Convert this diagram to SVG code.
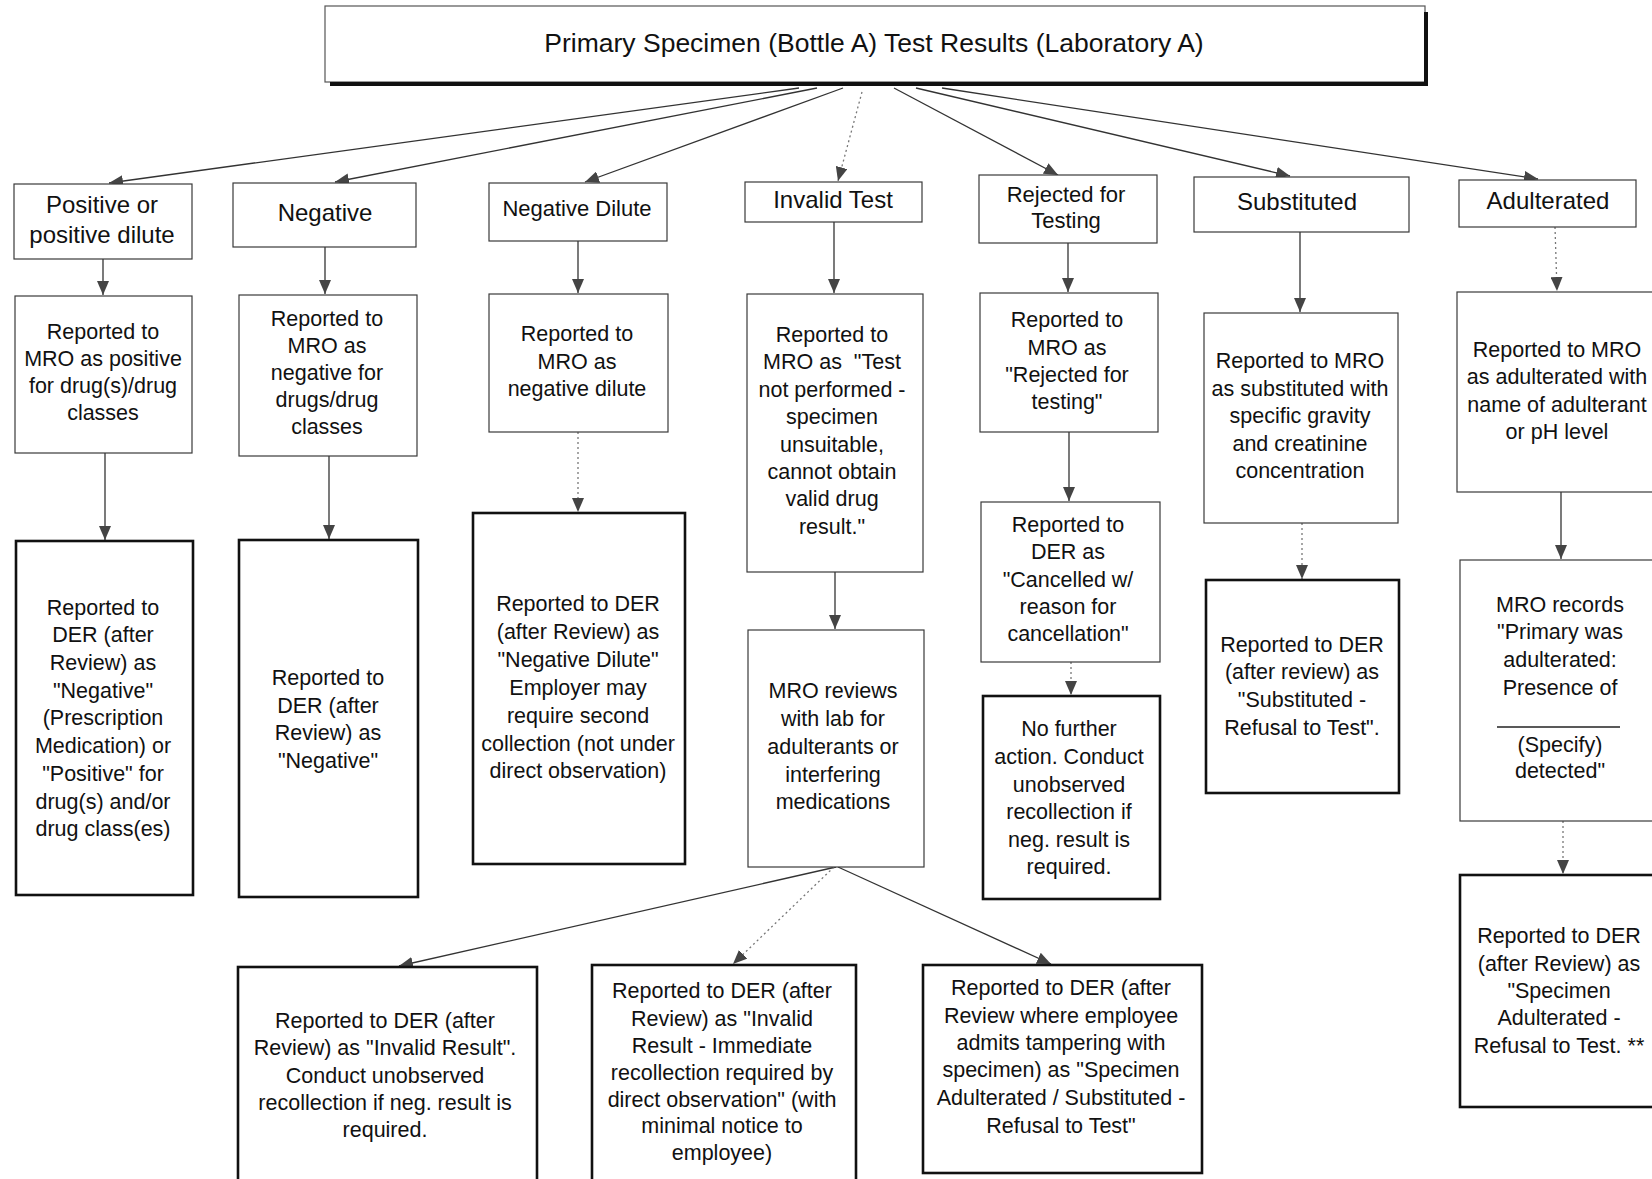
<svg xmlns="http://www.w3.org/2000/svg" width="1652" height="1179" viewBox="0 0 1652 1179">
<style>
.bg{fill:#ffffff}
.thin{fill:#ffffff;stroke:#3a3a3a;stroke-width:1.2}
.thick{fill:#ffffff;stroke:#111111;stroke-width:2.6}
.t{font-family:"Liberation Sans",Arial,sans-serif;font-size:21.5px;fill:#111111;text-anchor:middle}
.h{font-size:24px}
.h2{font-size:22px}
.ttl{font-size:26.5px}
.c{stroke:#333333;stroke-width:1.3;fill:none;marker-end:url(#ah)}
.dot{stroke-dasharray:2 3;stroke:#777777}
</style>
<defs>
<marker id="ah" viewBox="0 0 14 12" refX="14" refY="6" markerWidth="14" markerHeight="12" markerUnits="userSpaceOnUse" orient="auto">
<path d="M0,0 L14,6 L0,12 z" fill="#444444"/>
</marker>
</defs>
<rect class="bg" x="0" y="0" width="1652" height="1179"/>

<g id="connectors">
<line class="c" x1="799" y1="88" x2="109" y2="183"/>
<line class="c" x1="817" y1="88" x2="335" y2="182"/>
<line class="c" x1="843" y1="88" x2="585" y2="182"/>
<line class="c dot" x1="862" y1="92" x2="838" y2="181"/>
<line class="c" x1="894" y1="88" x2="1058" y2="175"/>
<line class="c" x1="916" y1="88" x2="1290" y2="176"/>
<line class="c" x1="942" y1="88" x2="1538" y2="179"/>
<line class="c" x1="103" y1="259" x2="103" y2="295"/>
<line class="c" x1="325" y1="247" x2="325" y2="294"/>
<line class="c" x1="578" y1="241" x2="578" y2="293"/>
<line class="c" x1="834" y1="222" x2="834" y2="293"/>
<line class="c" x1="1068" y1="243" x2="1068" y2="292"/>
<line class="c" x1="1300" y1="232" x2="1300" y2="312"/>
<line class="c dot" x1="1555" y1="227" x2="1557" y2="291"/>
<line class="c" x1="105" y1="453" x2="105" y2="540"/>
<line class="c" x1="329" y1="456" x2="329" y2="539"/>
<line class="c dot" x1="578" y1="432" x2="578" y2="512"/>
<line class="c" x1="835" y1="572" x2="835" y2="629"/>
<line class="c" x1="1069" y1="432" x2="1069" y2="501"/>
<line class="c dot" x1="1071" y1="662" x2="1071" y2="695"/>
<line class="c dot" x1="1302" y1="523" x2="1302" y2="579"/>
<line class="c" x1="1561" y1="492" x2="1561" y2="559"/>
<line class="c dot" x1="1563" y1="821" x2="1563" y2="874"/>
<line class="c" x1="836" y1="867" x2="399" y2="966"/>
<line class="c dot" x1="834" y1="867" x2="733" y2="964"/>
<line class="c" x1="838" y1="867" x2="1051" y2="964"/>
</g>

<g id="title">
<rect x="325" y="6" width="1100" height="76" fill="#ffffff" stroke="#555555" stroke-width="1.2"/>
<line x1="330" y1="84" x2="1428" y2="84" stroke="#111111" stroke-width="4"/>
<line x1="1426" y1="12" x2="1426" y2="86" stroke="#111111" stroke-width="4"/>
<text class="t ttl" x="874" y="52">Primary Specimen (Bottle A) Test Results (Laboratory A)</text>
</g>

<g id="positive">
<rect class="thin" x="14" y="184" width="178" height="75"/>
<text class="t h"><tspan x="102" y="213">Positive or</tspan><tspan x="102" y="243">positive dilute</tspan></text>
</g>
<g id="negative">
<rect class="thin" x="233" y="183" width="183" height="64"/>
<text class="t h" x="325" y="221">Negative</text>
</g>
<g id="negative-dilute">
<rect class="thin" x="489" y="183" width="178" height="58"/>
<text class="t h2" x="577" y="216">Negative Dilute</text>
</g>
<g id="invalid">
<rect class="thin" x="745" y="182" width="177" height="40"/>
<text class="t h" x="833" y="208">Invalid Test</text>
</g>
<g id="rejected">
<rect class="thin" x="979" y="175" width="178" height="68"/>
<text class="t h2"><tspan x="1066" y="202">Rejected for</tspan><tspan x="1066" y="228">Testing</tspan></text>
</g>
<g id="substituted">
<rect class="thin" x="1194" y="177" width="215" height="55"/>
<text class="t h" x="1297" y="210">Substituted</text>
</g>
<g id="adulterated">
<rect class="thin" x="1459" y="180" width="177" height="47"/>
<text class="t h" x="1548" y="209">Adulterated</text>
</g>

<g id="positive-mro">
<rect class="thin" x="15" y="296" width="177" height="157"/>
<text class="t"><tspan x="103" y="339">Reported to</tspan><tspan x="103" y="366">MRO as positive</tspan><tspan x="103" y="393">for drug(s)/drug</tspan><tspan x="103" y="420">classes</tspan></text>
</g>
<g id="negative-mro">
<rect class="thin" x="239" y="295" width="178" height="161"/>
<text class="t"><tspan x="327" y="326">Reported to</tspan><tspan x="327" y="353">MRO as</tspan><tspan x="327" y="380">negative for</tspan><tspan x="327" y="407">drugs/drug</tspan><tspan x="327" y="434">classes</tspan></text>
</g>
<g id="negative-dilute-mro">
<rect class="thin" x="489" y="294" width="179" height="138"/>
<text class="t"><tspan x="577" y="341">Reported to</tspan><tspan x="577" y="369">MRO as</tspan><tspan x="577" y="396">negative dilute</tspan></text>
</g>
<g id="invalid-mro">
<rect class="thin" x="747" y="294" width="176" height="278"/>
<text class="t" xml:space="preserve"><tspan x="832" y="342">Reported to</tspan><tspan x="832" y="369">MRO as  "Test</tspan><tspan x="832" y="397">not performed -</tspan><tspan x="832" y="424">specimen</tspan><tspan x="832" y="452">unsuitable,</tspan><tspan x="832" y="479">cannot obtain</tspan><tspan x="832" y="506">valid drug</tspan><tspan x="832" y="534">result."</tspan></text>
</g>
<g id="rejected-mro">
<rect class="thin" x="980" y="293" width="178" height="139"/>
<text class="t"><tspan x="1067" y="327">Reported to</tspan><tspan x="1067" y="355">MRO as</tspan><tspan x="1067" y="382">"Rejected for</tspan><tspan x="1067" y="409">testing"</tspan></text>
</g>
<g id="substituted-mro">
<rect class="thin" x="1204" y="313" width="194" height="210"/>
<text class="t"><tspan x="1300" y="368">Reported to MRO</tspan><tspan x="1300" y="396">as substituted with</tspan><tspan x="1300" y="423">specific gravity</tspan><tspan x="1300" y="451">and creatinine</tspan><tspan x="1300" y="478">concentration</tspan></text>
</g>
<g id="adulterated-mro">
<rect class="thin" x="1457" y="292" width="210" height="200"/>
<text class="t"><tspan x="1557" y="357">Reported to MRO</tspan><tspan x="1557" y="384">as adulterated with</tspan><tspan x="1557" y="412">name of adulterant</tspan><tspan x="1557" y="439">or pH level</tspan></text>
</g>

<g id="positive-der">
<rect class="thick" x="16" y="541" width="177" height="354"/>
<text class="t"><tspan x="103" y="615">Reported to</tspan><tspan x="103" y="642">DER (after</tspan><tspan x="103" y="670">Review) as</tspan><tspan x="103" y="698">"Negative"</tspan><tspan x="103" y="725">(Prescription</tspan><tspan x="103" y="753">Medication) or</tspan><tspan x="103" y="781">"Positive" for</tspan><tspan x="103" y="809">drug(s) and/or</tspan><tspan x="103" y="836">drug class(es)</tspan></text>
</g>
<g id="negative-der">
<rect class="thick" x="239" y="540" width="179" height="357"/>
<text class="t"><tspan x="328" y="685">Reported to</tspan><tspan x="328" y="713">DER (after</tspan><tspan x="328" y="740">Review) as</tspan><tspan x="328" y="768">"Negative"</tspan></text>
</g>
<g id="negative-dilute-der">
<rect class="thick" x="473" y="513" width="212" height="351"/>
<text class="t"><tspan x="578" y="611">Reported to DER</tspan><tspan x="578" y="639">(after Review) as</tspan><tspan x="578" y="667">"Negative Dilute"</tspan><tspan x="578" y="695">Employer may</tspan><tspan x="578" y="723">require second</tspan><tspan x="578" y="751">collection (not under</tspan><tspan x="578" y="778">direct observation)</tspan></text>
</g>
<g id="mro-reviews">
<rect class="thin" x="748" y="630" width="176" height="237"/>
<text class="t"><tspan x="833" y="698">MRO reviews</tspan><tspan x="833" y="726">with lab for</tspan><tspan x="833" y="754">adulterants or</tspan><tspan x="833" y="782">interfering</tspan><tspan x="833" y="809">medications</tspan></text>
</g>
<g id="rejected-der">
<rect class="thin" x="981" y="502" width="179" height="160"/>
<text class="t"><tspan x="1068" y="532">Reported to</tspan><tspan x="1068" y="559">DER as</tspan><tspan x="1068" y="587">"Cancelled w/</tspan><tspan x="1068" y="614">reason for</tspan><tspan x="1068" y="641">cancellation"</tspan></text>
</g>
<g id="no-further-action">
<rect class="thick" x="983" y="696" width="177" height="203"/>
<text class="t"><tspan x="1069" y="736">No further</tspan><tspan x="1069" y="764">action. Conduct</tspan><tspan x="1069" y="792">unobserved</tspan><tspan x="1069" y="819">recollection if</tspan><tspan x="1069" y="847">neg. result is</tspan><tspan x="1069" y="874">required.</tspan></text>
</g>
<g id="substituted-der">
<rect class="thick" x="1206" y="580" width="193" height="213"/>
<text class="t"><tspan x="1302" y="652">Reported to DER</tspan><tspan x="1302" y="679">(after review) as</tspan><tspan x="1302" y="707">"Substituted -</tspan><tspan x="1302" y="735">Refusal to Test".</tspan></text>
</g>
<g id="mro-records">
<rect class="thin" x="1460" y="560" width="210" height="261"/>
<text class="t"><tspan x="1560" y="612">MRO records</tspan><tspan x="1560" y="639">"Primary was</tspan><tspan x="1560" y="667">adulterated:</tspan><tspan x="1560" y="695">Presence of</tspan></text>
<line x1="1497" y1="727" x2="1620" y2="727" stroke="#222222" stroke-width="1.3"/>
<text class="t"><tspan x="1560" y="752">(Specify)</tspan><tspan x="1560" y="778">detected"</tspan></text>
</g>
<g id="adulterated-der">
<rect class="thick" x="1460" y="875" width="210" height="232"/>
<text class="t"><tspan x="1559" y="943">Reported to DER</tspan><tspan x="1559" y="971">(after Review) as</tspan><tspan x="1559" y="998">"Specimen</tspan><tspan x="1559" y="1025">Adulterated -</tspan><tspan x="1559" y="1053">Refusal to Test. **</tspan></text>
</g>

<g id="invalid-result">
<rect class="thick" x="238" y="967" width="299" height="225"/>
<text class="t"><tspan x="385" y="1028">Reported to DER (after</tspan><tspan x="385" y="1055">Review) as "Invalid Result".</tspan><tspan x="385" y="1083">Conduct unobserved</tspan><tspan x="385" y="1110">recollection if neg. result is</tspan><tspan x="385" y="1137">required.</tspan></text>
</g>
<g id="immediate-recollection">
<rect class="thick" x="592" y="965" width="264" height="225"/>
<text class="t"><tspan x="722" y="998">Reported to DER (after</tspan><tspan x="722" y="1026">Review) as "Invalid</tspan><tspan x="722" y="1053">Result - Immediate</tspan><tspan x="722" y="1080">recollection required by</tspan><tspan x="722" y="1107">direct observation" (with</tspan><tspan x="722" y="1133">minimal notice to</tspan><tspan x="722" y="1160">employee)</tspan></text>
</g>
<g id="tampering">
<rect class="thick" x="923" y="965" width="279" height="208"/>
<text class="t"><tspan x="1061" y="995">Reported to DER (after</tspan><tspan x="1061" y="1023">Review where employee</tspan><tspan x="1061" y="1050">admits tampering with</tspan><tspan x="1061" y="1077">specimen) as "Specimen</tspan><tspan x="1061" y="1105">Adulterated / Substituted -</tspan><tspan x="1061" y="1133">Refusal to Test"</tspan></text>
</g>
</svg>
